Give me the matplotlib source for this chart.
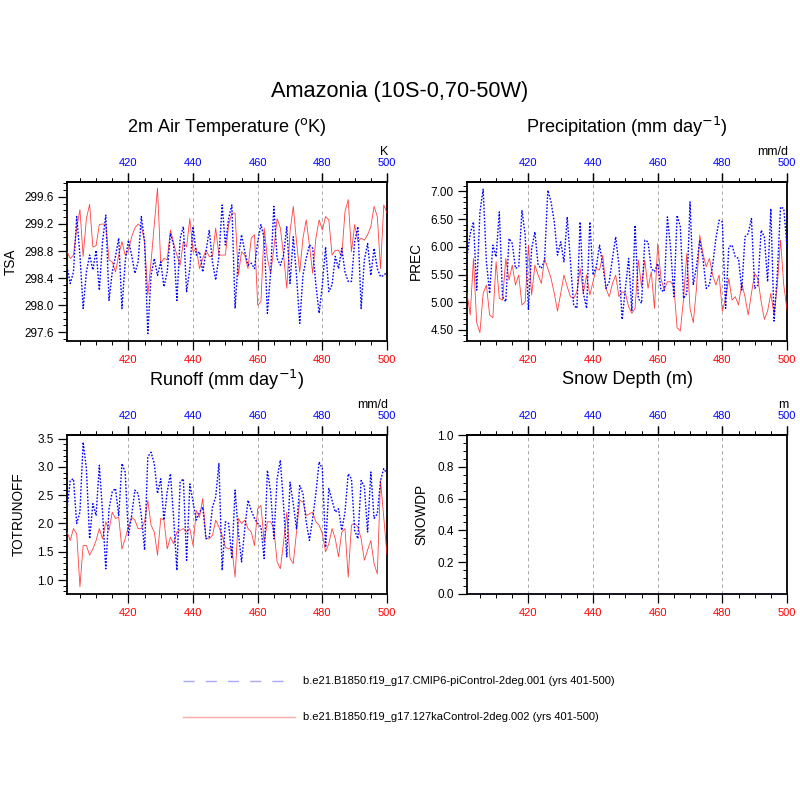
import numpy as np
import matplotlib
matplotlib.use("Agg")
import matplotlib.pyplot as plt
from matplotlib.ticker import MultipleLocator, FixedLocator, FormatStrFormatter

plt.rcParams['font.family'] = ['Liberation Sans', 'DejaVu Sans']

years = list(range(401, 501))

tsa_pi = [298.57, 298.32, 298.49, 299.31, 298.74, 297.95, 298.49, 298.74, 298.52, 298.81,
          298.22, 298.94, 299.33, 298.07, 298.49, 298.72, 298.99, 297.95, 298.64, 298.96,
          298.74, 298.47, 298.64, 299.31, 298.94, 297.58, 298.44, 298.69, 298.44, 298.64,
          298.27, 298.49, 299.06, 298.89, 298.07, 298.99, 299.16, 298.20, 298.54, 299.16,
          298.74, 298.79, 298.49, 298.79, 299.11, 298.64, 298.37, 298.72, 299.48, 298.89,
          299.28, 299.48, 297.95, 298.69, 299.04, 298.79, 298.59, 298.62, 298.54, 298.94,
          299.19, 298.99, 297.88, 298.49, 299.46, 298.69, 298.59, 298.74, 299.16, 298.32,
          299.01, 298.44, 297.73, 298.44, 298.69, 298.89, 298.84, 298.30, 297.88, 298.30,
          298.86, 298.20, 298.30, 298.72, 298.54, 298.84, 298.49, 298.35, 298.35, 298.94,
          299.16, 297.95, 298.67, 298.91, 298.44, 298.84, 298.54, 298.42, 298.44, 298.49]
tsa_127 = [298.79, 298.69, 298.74, 299.14, 299.41, 298.72, 299.28, 299.49, 298.86, 298.88,
           299.19, 299.20, 299.19, 298.67, 298.64, 298.49, 298.74, 298.94, 298.74, 298.81,
           299.01, 299.14, 299.20, 299.16, 298.94, 298.15, 298.64, 299.19, 299.73, 298.62,
           298.69, 298.67, 299.11, 298.91, 298.74, 298.59, 298.94, 298.86, 299.28, 298.79,
           298.84, 298.54, 298.69, 298.81, 298.72, 298.72, 299.14, 298.74, 298.74, 298.74,
           299.19, 299.36, 299.36, 298.44, 298.79, 298.74, 298.54, 298.99, 299.04, 298.00,
           298.05, 299.14, 298.69, 298.47, 298.84, 299.28, 299.14, 298.74, 298.25, 299.09,
           299.46, 298.94, 298.49, 298.99, 299.26, 298.89, 298.47, 298.99, 299.26, 299.11,
           299.31, 299.26, 298.74, 298.81, 298.81, 298.72, 299.38, 299.56, 298.79, 299.19,
           298.94, 298.99, 298.96, 299.04, 299.16, 299.46, 299.31, 298.54, 299.48, 299.36]

prec_pi = [5.82, 6.24, 6.45, 5.22, 6.63, 7.04, 5.73, 5.16, 6.03, 5.82,
           6.63, 5.10, 5.01, 6.15, 6.06, 5.61, 5.64, 6.66, 6.21, 4.86,
           5.97, 6.27, 5.67, 5.61, 5.76, 7.02, 6.81, 6.45, 5.85, 6.09,
           5.73, 6.54, 5.73, 4.95, 4.89, 6.45, 5.16, 4.89, 6.45, 5.49,
           5.64, 6.03, 5.67, 5.25, 5.37, 5.79, 6.18, 5.67, 4.69, 5.25,
           5.79, 4.84, 6.39, 5.07, 4.98, 6.12, 6.09, 5.61, 5.55, 5.70,
           5.22, 5.19, 6.54, 5.97, 5.10, 6.57, 6.36, 5.07, 5.16, 6.81,
           5.31, 5.64, 6.12, 5.79, 5.25, 5.31, 5.67, 6.15, 6.48, 6.45,
           4.89, 6.00, 6.03, 5.82, 5.79, 5.22, 6.18, 6.24, 6.51, 5.25,
           5.31, 6.30, 6.18, 5.37, 6.69, 4.66, 5.52, 6.72, 6.69, 6.00]
prec_127 = [5.16, 4.77, 5.79, 4.63, 4.45, 5.16, 5.31, 4.77, 4.72, 5.73,
            5.07, 5.04, 5.79, 5.40, 5.67, 5.31, 5.49, 4.95, 5.01, 6.03,
            5.13, 5.67, 5.49, 5.34, 5.79, 5.61, 5.43, 5.16, 4.84, 5.16,
            5.49, 5.28, 5.10, 5.07, 5.19, 5.61, 5.16, 5.49, 5.13, 5.37,
            5.61, 5.58, 5.85, 5.25, 5.10, 5.34, 5.49, 5.10, 5.19, 5.16,
            4.92, 4.80, 4.89, 5.76, 5.28, 5.76, 5.25, 5.55, 4.89, 6.06,
            5.43, 5.22, 5.37, 5.37, 5.28, 4.54, 4.48, 5.07, 5.88, 4.89,
            4.63, 5.25, 6.21, 5.88, 5.64, 5.79, 5.49, 5.31, 5.49, 4.84,
            5.07, 5.43, 5.04, 5.10, 4.95, 5.34, 5.10, 4.77, 5.16, 5.52,
            5.43, 5.01, 4.69, 4.84, 5.16, 4.77, 5.31, 6.12, 5.31, 4.86]

roff_pi = [2.26, 2.76, 2.79, 2.00, 2.20, 3.44, 2.97, 1.73, 2.35, 2.14,
           3.03, 2.20, 1.20, 2.26, 2.56, 2.62, 2.14, 3.06, 2.91, 1.79,
           2.14, 2.59, 2.53, 2.14, 1.53, 3.18, 3.26, 3.06, 2.53, 2.79,
           2.06, 2.56, 2.88, 2.09, 1.17, 2.73, 2.79, 1.35, 2.70, 2.38,
           2.06, 2.20, 2.29, 1.73, 1.76, 2.29, 2.47, 3.06, 1.17, 2.03,
           2.00, 1.38, 2.59, 1.85, 1.32, 1.91, 2.41, 2.23, 2.09, 2.00,
           1.94, 1.38, 2.94, 2.56, 1.73, 2.79, 3.12, 2.32, 1.41, 2.73,
           2.35, 1.91, 2.67, 2.53, 2.03, 1.70, 2.09, 2.53, 3.09, 2.97,
           1.58, 2.62, 2.41, 2.20, 2.26, 1.88, 2.20, 2.88, 2.79, 1.88,
           1.73, 2.76, 2.65, 1.85, 2.91, 2.09, 2.17, 2.76, 2.97, 2.88]
roff_127 = [1.85, 1.70, 1.91, 1.82, 0.88, 1.61, 1.61, 1.44, 1.55, 1.70,
            1.91, 1.73, 2.03, 1.88, 2.20, 2.09, 2.11, 1.55, 1.73, 1.94,
            2.11, 2.06, 1.91, 1.91, 2.03, 2.41, 1.97, 1.85, 1.44, 2.09,
            2.06, 1.55, 1.76, 1.64, 1.85, 1.88, 1.91, 1.85, 1.91, 1.61,
            2.23, 2.11, 2.44, 1.73, 1.73, 1.79, 2.06, 1.94, 1.79, 1.58,
            1.55, 1.58, 1.05, 2.09, 2.00, 2.06, 1.91, 1.85, 1.61, 2.26,
            2.32, 1.67, 2.03, 2.03, 1.91, 1.32, 1.20, 1.67, 2.20, 1.38,
            1.29, 1.85, 2.41, 2.38, 2.14, 2.17, 2.20, 2.03, 1.97, 1.82,
            1.50, 1.64, 1.91, 1.73, 1.41, 1.85, 1.91, 1.05, 1.97, 2.00,
            1.94, 1.73, 1.35, 1.53, 1.70, 1.29, 1.11, 2.76, 2.11, 1.44]

snow_pi = [0.0] * 100
snow_127 = [0.0] * 100

main_title = "Amazonia (10S-0,70-50W)"
legend_labels = ["b.e21.B1850.f19_g17.CMIP6-piControl-2deg.001 (yrs 401-500)",
                 "b.e21.B1850.f19_g17.127kaControl-2deg.002 (yrs 401-500)"]

panels = [
    dict(pi=tsa_pi, ka=tsa_127, title=r"2m Air Temperature ($^{\mathrm{o}}$K)", ylabel="TSA", unit="K",
         ylim=(297.47, 299.82), major=0.4, minor=0.1, fmt="%.1f", yt0=297.6, yt1=299.6,
         rect=(67, 182), ylab_x=11),
    dict(pi=prec_pi, ka=prec_127, title=r"Precipitation (mm day$^{\mathrm{-1}}$)", ylabel="PREC", unit="mm/d",
         ylim=(4.30, 7.17), major=0.5, minor=0.1, fmt="%.2f", yt0=4.5, yt1=7.0,
         rect=(467, 182), ylab_x=416),
    dict(pi=roff_pi, ka=roff_127, title=r"Runoff (mm day$^{\mathrm{-1}}$)", ylabel="TOTRUNOFF", unit="mm/d",
         ylim=(0.753, 3.565), major=0.5, minor=0.1, fmt="%.1f", yt0=1.0, yt1=3.5,
         rect=(67, 435), ylab_x=19),
    dict(pi=snow_pi, ka=snow_127, title="Snow Depth (m)", ylabel="SNOWDP", unit="m",
         ylim=(0.0, 1.0), major=0.2, minor=0.05, fmt="%.1f", yt0=0.0, yt1=1.0,
         rect=(467, 435), ylab_x=421),
]

W = H = 800
fig = plt.figure(figsize=(8, 8), dpi=100)
fig.text(400 / W, 1 - 91 / H, main_title, ha='center', va='center', fontsize=15.7)

pw, ph = 320, 159
minor_x = [405, 410, 415, 425, 430, 435, 445, 450, 455, 465, 470, 475, 485, 490, 495]
for p in panels:
    x0, y0 = p['rect']
    ax = fig.add_axes([x0 / W, 1 - (y0 + ph) / H, pw / W, ph / H])
    ax.plot(years, p['ka'], color='#ff2020', lw=0.6, alpha=0.85, zorder=3)
    ax.plot(years, p['pi'], color='#0000ff', lw=1.0, linestyle=(0, (1.2, 1.2)), zorder=4)
    ax.set_xlim(401, 500)
    ax.set_ylim(*p['ylim'])
    for g in [420, 440, 460, 480]:
        ax.axvline(g, color='#999999', lw=0.6, linestyle=(0, (4, 4)), zorder=1)
    ax.xaxis.set_major_locator(FixedLocator([420, 440, 460, 480, 500]))
    ax.xaxis.set_minor_locator(FixedLocator(minor_x))
    ax.yaxis.set_major_locator(FixedLocator(list(np.arange(p['yt0'], p['yt1'] + 1e-6, p['major']))))
    ax.yaxis.set_minor_locator(MultipleLocator(p['minor']))
    ax.yaxis.set_major_formatter(FormatStrFormatter(p['fmt']))
    ax.tick_params(axis='x', which='both', direction='out', bottom=True, top=True,
                   labelbottom=True, labeltop=False, labelcolor='red', labelsize=8, pad=3.5)
    ax.tick_params(axis='y', which='both', direction='out', left=True, right=False,
                   labelsize=8.5, pad=3)
    ax.tick_params(which='major', length=6.5, width=0.9)
    ax.tick_params(which='minor', length=3, width=0.7)
    sec = ax.secondary_xaxis('top')
    sec.xaxis.set_major_locator(FixedLocator([420, 440, 460, 480, 500]))
    sec.xaxis.set_minor_locator(FixedLocator(minor_x))
    sec.tick_params(axis='x', which='both', direction='out', labelcolor='blue', labelsize=8, pad=3.5)
    sec.tick_params(which='major', length=6.5, width=0.9)
    sec.tick_params(which='minor', length=3, width=0.7)
    sec.spines['top'].set_linewidth(1.3)
    for s in ax.spines.values():
        s.set_linewidth(1.3)
    cx = x0 + pw / 2
    fig.text(cx / W, 1 - (y0 - 55) / H, p['title'], ha='center', va='center', fontsize=13.1)
    fig.text((x0 + pw + 1) / W, 1 - (y0 - 30) / H, p['unit'], ha='right', va='center', fontsize=9)
    fig.text(p['ylab_x'] / W, 1 - (y0 + ph / 2) / H, p['ylabel'], ha='center', va='center',
             rotation=90, fontsize=9.8)

# legend
lx0, lx1 = 183 / W, 292 / W
fig.add_artist(plt.Line2D([lx0, lx1], [1 - 681 / H, 1 - 681 / H], transform=fig.transFigure,
                          color='#a8a8ff', lw=1.0, linestyle=(0, (8, 8))))
fig.add_artist(plt.Line2D([lx0, 295 / W], [1 - 717 / H, 1 - 717 / H], transform=fig.transFigure,
                          color='#ffa8a8', lw=1.0))
fig.text(303 / W, 1 - 681 / H, legend_labels[0], ha='left', va='center', fontsize=8)
fig.text(303 / W, 1 - 717 / H, legend_labels[1], ha='left', va='center', fontsize=8)

fig.savefig('out.png', dpi=100)
